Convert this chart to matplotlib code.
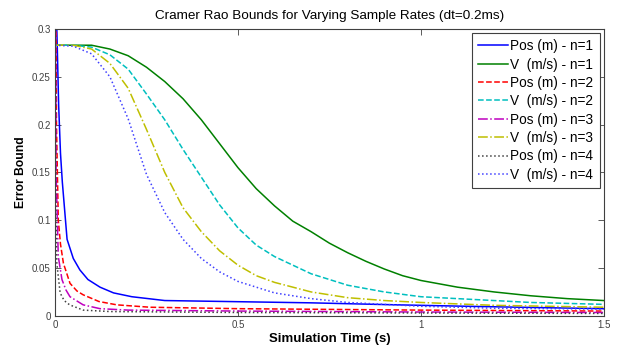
import numpy as np
import matplotlib
matplotlib.use('Agg')
import matplotlib.pyplot as plt

plt.rcParams['font.family'] = ['Liberation Sans', 'DejaVu Sans']

# ---- data ----
# position bounds (n=1..4)
t_pos1 = [0, 0.005, 0.01, 0.015, 0.02, 0.033, 0.05, 0.068, 0.09, 0.123, 0.16, 0.21, 0.3, 0.5, 0.7, 0.9, 1.1, 1.3, 1.5]
pos1 = [0.6, 0.30, 0.22, 0.17, 0.14, 0.08, 0.06, 0.048, 0.038, 0.030, 0.024, 0.020, 0.016, 0.0148, 0.0136, 0.0118, 0.0102, 0.0088, 0.0075]

t_pos2 = [0, 0.004, 0.009, 0.015, 0.023, 0.041, 0.06, 0.077, 0.12, 0.169, 0.26, 0.5, 1.0, 1.5]
pos2 = [0.6, 0.2, 0.10, 0.075, 0.055, 0.034, 0.026, 0.022, 0.015, 0.0115, 0.009, 0.0075, 0.006, 0.005]

t_pos3 = [0, 0.003, 0.009, 0.019, 0.03, 0.041, 0.077, 0.123, 0.2, 0.5, 1.0, 1.5]
pos3 = [0.6, 0.15, 0.062, 0.038, 0.027, 0.020, 0.0115, 0.0075, 0.006, 0.005, 0.004, 0.0035]

t_pos4 = [0, 0.002, 0.005, 0.014, 0.025, 0.04, 0.077, 0.15, 0.5, 1.0, 1.5]
pos4 = [0.6, 0.12, 0.055, 0.024, 0.016, 0.0115, 0.006, 0.0045, 0.0035, 0.003, 0.0025]

# velocity bounds (n=1..4)
t_vel1 = [0, 0.1, 0.15, 0.2, 0.25, 0.3, 0.35, 0.4, 0.45, 0.5, 0.55, 0.6, 0.65, 0.7, 0.75, 0.8, 0.85, 0.9, 0.95, 1.0, 1.1, 1.2, 1.3, 1.4, 1.5]
vel1 = [0.283, 0.283, 0.279, 0.272, 0.260, 0.245, 0.227, 0.205, 0.180, 0.155, 0.133, 0.115, 0.099, 0.088, 0.076, 0.066, 0.057, 0.049, 0.042, 0.037, 0.030, 0.025, 0.021, 0.018, 0.016]

t_vel2 = [0, 0.05, 0.1, 0.15, 0.2, 0.25, 0.3, 0.35, 0.4, 0.45, 0.5, 0.55, 0.6, 0.7, 0.8, 0.9, 1.0, 1.1, 1.2, 1.3, 1.4, 1.5]
vel2 = [0.283, 0.283, 0.281, 0.273, 0.258, 0.232, 0.205, 0.174, 0.145, 0.116, 0.092, 0.074, 0.062, 0.044, 0.032, 0.025, 0.020, 0.018, 0.016, 0.014, 0.013, 0.012]

t_vel3 = [0, 0.05, 0.1, 0.15, 0.2, 0.25, 0.3, 0.35, 0.4, 0.45, 0.5, 0.55, 0.6, 0.7, 0.8, 0.9, 1.0, 1.2, 1.5]
vel3 = [0.283, 0.283, 0.279, 0.264, 0.238, 0.195, 0.150, 0.113, 0.088, 0.068, 0.053, 0.042, 0.035, 0.025, 0.019, 0.016, 0.014, 0.011, 0.009]

t_vel4 = [0, 0.05, 0.1, 0.15, 0.2, 0.25, 0.3, 0.35, 0.4, 0.45, 0.5, 0.6, 0.7, 0.8, 0.9, 1.0, 1.2, 1.5]
vel4 = [0.283, 0.282, 0.274, 0.250, 0.206, 0.148, 0.108, 0.080, 0.060, 0.046, 0.036, 0.024, 0.018, 0.014, 0.012, 0.010, 0.008, 0.007]

labels = ['Pos (m) - n=1', 'V  (m/s) - n=1', 'Pos (m) - n=2', 'V  (m/s) - n=2',
          'Pos (m) - n=3', 'V  (m/s) - n=3', 'Pos (m) - n=4', 'V  (m/s) - n=4']

x_ticks = [0, 0.5, 1, 1.5]
x_ticklabels = ['0', '0.5', '1', '1.5']
y_ticks = [0, 0.05, 0.1, 0.15, 0.2, 0.25, 0.3]
y_ticklabels = ['0', '0.05', '0.1', '0.15', '0.2', '0.25', '0.3']

# ---- plot ----
fig = plt.figure(figsize=(6.18, 3.49), dpi=100)
ax = fig.add_axes([0.089, 0.095, 0.888, 0.822])

lw = 1.1
ax.plot(t_pos1, pos1, '-', color='#0000ff', lw=lw, label=labels[0])
ax.plot(t_vel1, vel1, '-', color='#008000', lw=lw, label=labels[1])
ax.plot(t_pos2, pos2, '--', color='#ff0000', lw=lw, label=labels[2])
ax.plot(t_vel2, vel2, '--', color='#00bfbf', lw=lw, label=labels[3])
ax.plot(t_pos3, pos3, '-.', color='#bf00bf', lw=lw, label=labels[4])
ax.plot(t_vel3, vel3, '-.', color='#bfbf00', lw=lw, label=labels[5])
ax.plot(t_pos4, pos4, ':', color='#404040', lw=lw, label=labels[6])
ax.plot(t_vel4, vel4, ':', color='#4040ff', lw=lw, label=labels[7])

ax.set_xlim(0, 1.5)
ax.set_ylim(0, 0.3)
ax.set_xticks(x_ticks)
ax.set_xticklabels(x_ticklabels)
ax.set_yticks(y_ticks)
ax.set_yticklabels(y_ticklabels)
ax.tick_params(direction='in', top=True, right=True, length=4, width=0.6,
               labelsize=7, colors='#404040', pad=3)
for s in ax.spines.values():
    s.set_color('#404040')
    s.set_linewidth(0.8)

ax.set_title('Cramer Rao Bounds for Varying Sample Rates (dt=0.2ms)', fontsize=9.7, pad=7)
ax.set_xlabel('Simulation Time (s)', fontsize=9.5, fontweight='bold', labelpad=2)
ax.set_ylabel('Error Bound', fontsize=8.7, fontweight='bold', labelpad=4)

leg = ax.legend(loc='upper right', fontsize=9.8, fancybox=False, framealpha=1,
                edgecolor='#404040', borderaxespad=0.3, handlelength=2.2,
                handletextpad=0.2, labelspacing=0.32, borderpad=0.45)
leg.get_frame().set_linewidth(0.8)

fig.savefig('out.png', dpi=100)
